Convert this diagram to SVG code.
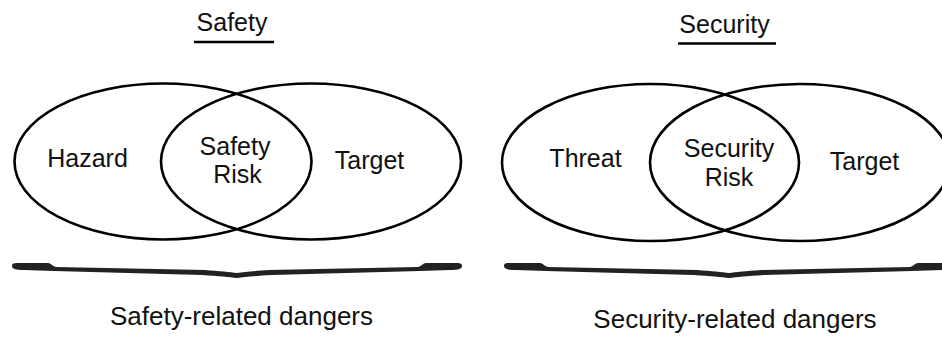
<svg xmlns="http://www.w3.org/2000/svg" width="942" height="337" viewBox="0 0 942 337">
<style>
  .t { font-family: "Liberation Sans", Arial, sans-serif; font-size: 25px; fill: #111; text-anchor: middle; }
  .b { font-size: 26px; }
  .e { fill: none; stroke: #000; stroke-width: 2.6; }
  .u { stroke: #000; stroke-width: 2.7; }
  .br { fill: #222; }
</style>
<defs>
  <path id="brace" d="M12,266 C12,263 14,263 20,263 L48,263 C51,263 52,266 56,267 L205,270 C220,271 230,272 237,273 C244,272 254,271 269,270 L418,267 C422,266 423,263 426,263 L454,263 C460,263 462,263 462,266 C462,269 458,270 450,270 L420,271 L272,275 C255,276 245,277 237,278 C229,277 219,276 202,275 L54,271 L24,270 C16,270 12,269 12,266 Z"/>
</defs>
<rect width="942" height="337" fill="#fff"/>

<g id="safety-panel">
  <g id="safety-title">
    <text class="t" x="232" y="31">Safety</text>
    <line class="u" x1="194" y1="42" x2="274" y2="42"/>
  </g>
  <g id="hazard">
    <ellipse class="e" cx="163" cy="161.5" rx="148.5" ry="78"/>
    <text class="t" x="87.5" y="167">Hazard</text>
  </g>
  <g id="safety-target">
    <ellipse class="e" cx="311" cy="161.5" rx="150" ry="78"/>
    <text class="t" x="369.5" y="169">Target</text>
  </g>
  <g id="safety-risk">
    <text class="t" x="235" y="155">Safety</text>
    <text class="t" x="237.5" y="183">Risk</text>
  </g>
  <g id="safety-brace">
    <use href="#brace" class="br"/>
    <text class="t b" x="241.5" y="325">Safety-related dangers</text>
  </g>
</g>

<g id="security-panel">
  <g id="security-title">
    <text class="t" x="724.5" y="33">Security</text>
    <line class="u" x1="678" y1="43.5" x2="776" y2="43.5"/>
  </g>
  <g id="threat">
    <ellipse class="e" cx="650.5" cy="162.5" rx="148.5" ry="78.5"/>
    <text class="t" x="585.5" y="167">Threat</text>
  </g>
  <g id="security-target">
    <ellipse class="e" cx="800" cy="162.5" rx="150" ry="78.5"/>
    <text class="t" x="864.5" y="170">Target</text>
  </g>
  <g id="security-risk">
    <text class="t" x="729" y="157">Security</text>
    <text class="t" x="729" y="186">Risk</text>
  </g>
  <g id="security-brace">
    <use href="#brace" class="br" transform="translate(492,0)"/>
    <text class="t b" x="735" y="328">Security-related dangers</text>
  </g>
</g>
</svg>
